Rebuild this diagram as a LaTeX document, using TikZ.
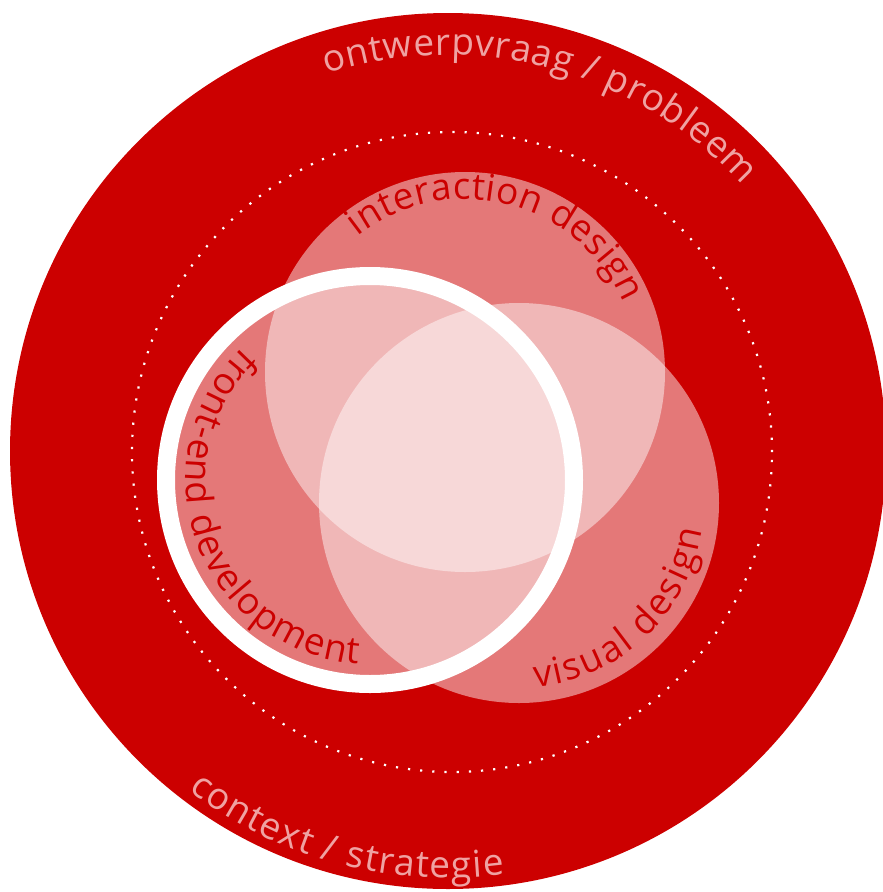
\documentclass[tikz,border=0pt]{standalone}
\usepackage{fontspec}
\setmainfont{Open Sans}
\usetikzlibrary{decorations.text}
\definecolor{bgred}{HTML}{CC0000}
\definecolor{outertext}{HTML}{EFA2A2}
\begin{document}
\begin{tikzpicture}[x=1pt,y=1pt,
  venn/.style={fill=white, fill opacity=0.47},
  ring/.style={draw=white, line width=18pt},
  dotring/.style={draw=white, line width=2.2pt, dash pattern=on 2.2pt off 10pt},
  arclabel/.style n args={3}{decorate, decoration={text along path, text align=center,
     text={|\fontsize{37}{40}\selectfont\color{#1}\kern#2pt|#3}}},
]
\useasboundingbox (0,0) rectangle (883,-892);
\coordinate (C) at (448,-451);
\coordinate (D) at (452,-452);
\coordinate (I) at (465,-372);
\coordinate (V) at (519,-503);
\coordinate (F) at (370,-480);
% outer field
\fill[bgred] (C) circle[radius=438];
\path[dotring] (D) circle[radius=320];
% venn circles
\path[venn] (I) circle[radius=200];
\path[venn] (V) circle[radius=200];
\path[venn] (F) circle[radius=204];
\path[ring] (F) circle[radius=204];
% outer labels
\path[arclabel={outertext}{0.6}{ontwerpvraag / probleem}] ([shift={(135:396)}]C) arc[start angle=135, end angle=15, radius=396];
\path[arclabel={outertext}{1.3}{context / strategie}] ([shift={(195:427)}]C) arc[start angle=195, end angle=315, radius=427];
% inner labels
\path[arclabel={bgred}{0.4}{interaction design}] ([shift={(136:173)}]I) arc[start angle=136, end angle=16, radius=173];
\path[arclabel={bgred}{1.2}{front-end development}] ([shift={(110:184)}]F) arc[start angle=110, end angle=290, radius=184];
\path[arclabel={bgred}{2.2}{visual design}] ([shift={(243:185)}]V) arc[start angle=243, end angle=383, radius=185];
\end{tikzpicture}
\end{document}
